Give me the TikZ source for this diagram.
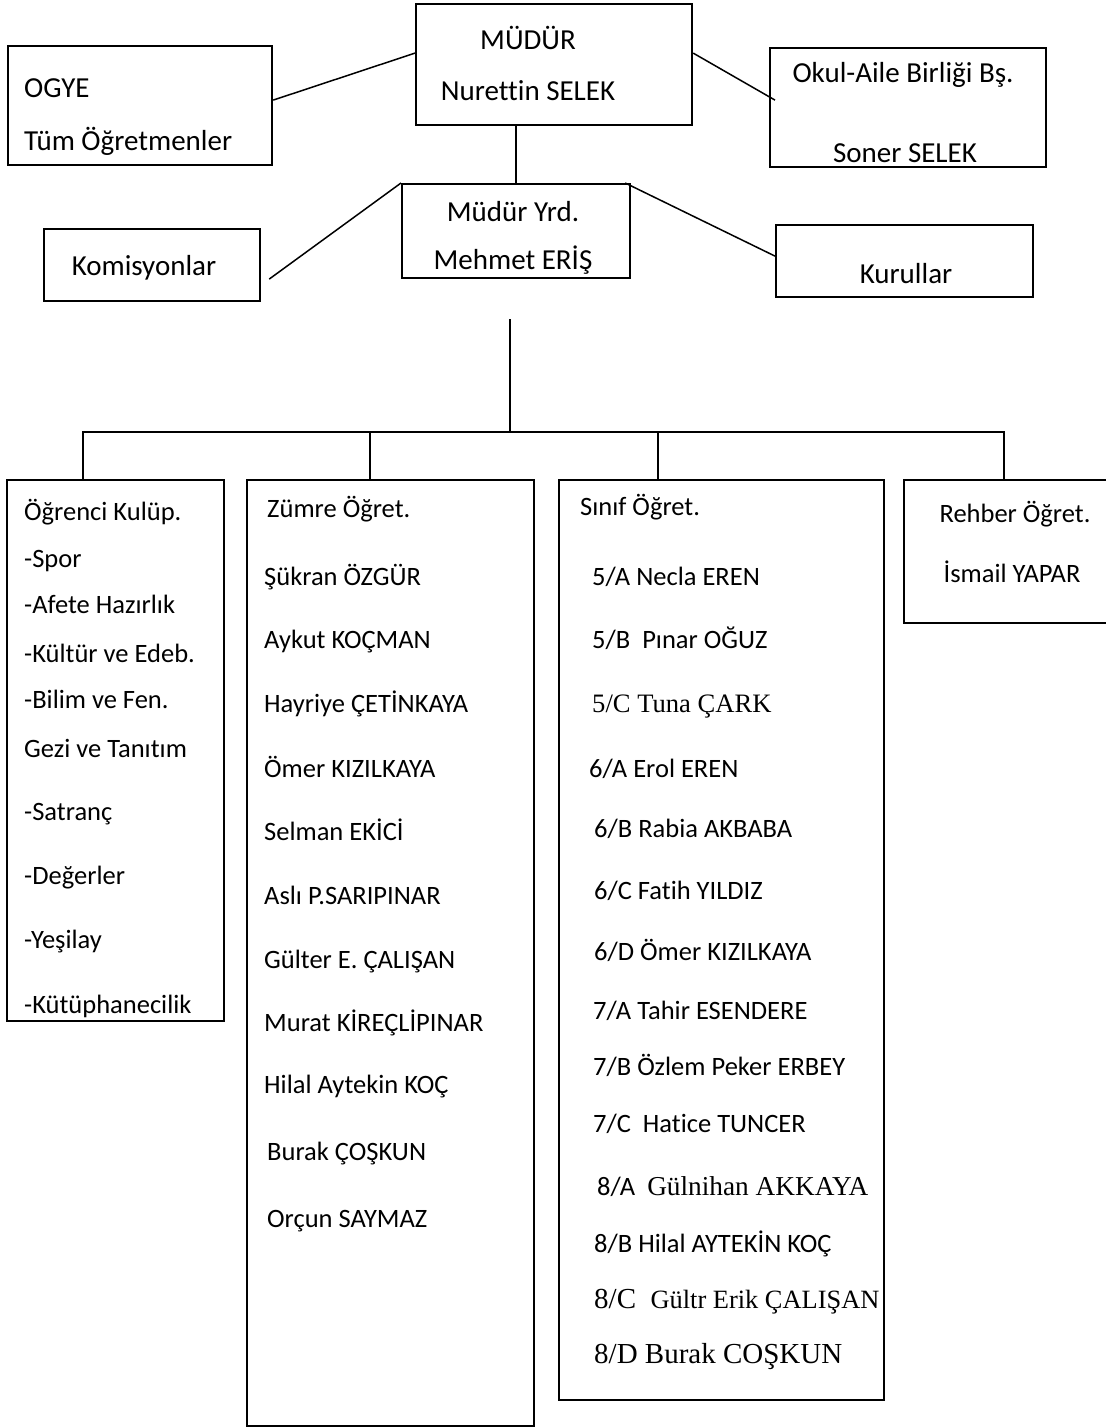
\documentclass[tikz,border=0pt]{standalone}
\usepackage{fontspec}
\setmainfont{Carlito}[Ligatures=NoCommon]
\newfontfamily\serifTR{Liberation Serif}[Ligatures=NoCommon]
\begin{document}
\begin{tikzpicture}[x=1pt,y=-1pt,
  box/.style={draw, line width=2.2pt, rectangle, inner sep=0pt, anchor=north west},
  lbl/.style={inner sep=0pt, font=\fontsize{26.5pt}{31pt}\selectfont},
  lw/.style={lbl, anchor=base west},
  lc/.style={lbl, anchor=base},
  top/.style={font=\fontsize{29pt}{34pt}\selectfont},
  link/.style={line width=1.5pt},
  bus/.style={line width=2.2pt}]
\clip (0,0) rectangle (1106,1428);
\fill[white] (0,0) rectangle (1106,1428);

% ---------- boxes ----------
\node[box, minimum width=276pt, minimum height=121pt] (mudur)  at (415,3)   {};
\node[box, minimum width=264pt, minimum height=119pt] (ogye)   at (7,45)    {};
\node[box, minimum width=276pt, minimum height=119pt] (okul)   at (769,47)  {};
\node[box, minimum width=228pt, minimum height=94pt]  (yrd)    at (401,183) {};
\node[box, minimum width=216pt, minimum height=72pt]  (komis)  at (43,228)  {};
\node[box, minimum width=257pt, minimum height=72pt]  (kurul)  at (775,224) {};
\node[box, minimum width=217pt, minimum height=541pt] (kulup)  at (6,479)   {};
\node[box, minimum width=287pt, minimum height=946pt] (zumre)  at (246,479) {};
\node[box, minimum width=325pt, minimum height=920pt] (sinif)  at (558,479) {};
\node[box, minimum width=209pt, minimum height=143pt] (rehber) at (903,479) {};

% ---------- top texts ----------
\node[lc, top] (mudur1) at (528,49)  {MÜDÜR};
\node[lc, top] (mudur2) at (528,100) {Nurettin SELEK};
\node[lw, top] (ogye1)  at (24,97)   {OGYE};
\node[lw, top] (ogye2)  at (24,150)  {Tüm Öğretmenler};
\node[lc, top] (okul1)  at (903,82)  {Okul-Aile Birliği Bş.};
\node[lc, top] (okul2)  at (905,162) {Soner SELEK};
\node[lc, top] (yrd1)   at (513,221) {Müdür Yrd.};
\node[lc, top] (yrd2)   at (513,269) {Mehmet ERİŞ};
\node[lc, top] (komis1) at (144,275) {Komisyonlar};
\node[lc, top] (kurul1) at (906,283) {Kurullar};

% ---------- top connectors ----------
\draw[link] ([yshift=5.5pt]ogye.east) -- ([yshift=11.5pt]mudur.west);
\draw[link] ([yshift=11.5pt]mudur.east) -- ([xshift=6pt,yshift=7.5pt]okul.west);
\draw[bus]  (mudur.south -| yrd.north) -- (yrd.north);
\draw[link] (yrd.north west) -- ([xshift=8pt,yshift=-14pt]komis.east);
\draw[link] ([xshift=-6pt]yrd.north east) -- ([yshift=5pt]kurul.west);

% ---------- lower tree ----------
\coordinate (stem) at (510,319);
\coordinate (d1) at (83,432);
\coordinate (d2) at (370,432);
\coordinate (d3) at (658,432);
\coordinate (d4) at (1004,432);
\draw[bus] (stem) -- (stem |- d1);
\draw[bus] (d1 |- kulup.north) -- (d1) -- (d4) -- (d4 |- rehber.north);
\draw[bus] (d2) -- (d2 |- zumre.north);
\draw[bus] (d3) -- (d3 |- sinif.north);

% ---------- Öğrenci Kulüp. ----------
\node[lw] (k1)  at (24,520)  {Öğrenci Kulüp.};
\node[lw] (k2)  at (24,567)  {-Spor};
\node[lw] (k3)  at (24,613)  {-Afete Hazırlık};
\node[lw] (k4)  at (24,662)  {-Kültür ve Edeb.};
\node[lw] (k5)  at (24,708)  {-Bilim ve Fen.};
\node[lw] (k6)  at (24,757)  {Gezi ve Tanıtım};
\node[lw] (k7)  at (24,820)  {-Satranç};
\node[lw] (k8)  at (24,884)  {-Değerler};
\node[lw] (k9)  at (24,948)  {-Yeşilay};
\node[lw] (k10) at (24,1013) {-Kütüphanecilik};

% ---------- Zümre Öğret. ----------
\node[lw] (z0)  at (267,517)  {Zümre Öğret.};
\node[lw] (z1)  at (264,585)  {Şükran ÖZGÜR};
\node[lw] (z2)  at (264,648)  {Aykut KOÇMAN};
\node[lw] (z3)  at (264,712)  {Hayriye ÇETİNKAYA};
\node[lw] (z4)  at (264,777)  {Ömer KIZILKAYA};
\node[lw] (z5)  at (264,840)  {Selman EKİCİ};
\node[lw] (z6)  at (264,904)  {Aslı P.SARIPINAR};
\node[lw] (z7)  at (264,968)  {Gülter E. ÇALIŞAN};
\node[lw] (z8)  at (264,1031) {Murat KİREÇLİPINAR};
\node[lw] (z9)  at (264,1093) {Hilal Aytekin KOÇ};
\node[lw] (z10) at (267,1160) {Burak ÇOŞKUN};
\node[lw] (z11) at (267,1227) {Orçun SAYMAZ};

% ---------- Sınıf Öğret. ----------
\node[lw] (s0)  at (580,515)  {Sınıf Öğret.};
\node[lw] (s1)  at (592,585)  {5/A Necla EREN};
\node[lw] (s2)  at (592,648)  {5/B~~Pınar OĞUZ};
\node[lw, font=\serifTR\fontsize{26.6pt}{31pt}\selectfont] (s3) at (592,712) {5/C Tuna ÇARK};
\node[lw] (s4)  at (589,777)  {6/A Erol EREN};
\node[lw] (s5)  at (594,837)  {6/B Rabia AKBABA};
\node[lw] (s6)  at (594,899)  {6/C Fatih YILDIZ};
\node[lw] (s7)  at (594,960)  {6/D Ömer KIZILKAYA};
\node[lw] (s8)  at (593,1019) {7/A Tahir ESENDERE};
\node[lw] (s9)  at (593,1075) {7/B Özlem Peker ERBEY};
\node[lw] (s10) at (593,1132) {7/C~~Hatice TUNCER};
\node[lw] (s11) at (597,1195) {8/A~~{\serifTR\fontsize{27.3pt}{32pt}\selectfont Gülnihan AKKAYA}};
\node[lw] (s12) at (594,1252) {8/B Hilal AYTEKİN KOÇ};
\node[lw, font=\serifTR\fontsize{29pt}{34pt}\selectfont] (s13) at (594,1308) {8/C~~{\fontsize{26.4pt}{31pt}\selectfont Gültr Erik ÇALIŞAN}};
\node[lw, font=\serifTR\fontsize{29pt}{34pt}\selectfont] (s14) at (594,1363) {8/D Burak COŞKUN};

% ---------- Rehber Öğret. ----------
\node[lc] (r1) at (1015,522) {Rehber Öğret.};
\node[lc] (r2) at (1012,582) {İsmail YAPAR};
\end{tikzpicture}
\end{document}
